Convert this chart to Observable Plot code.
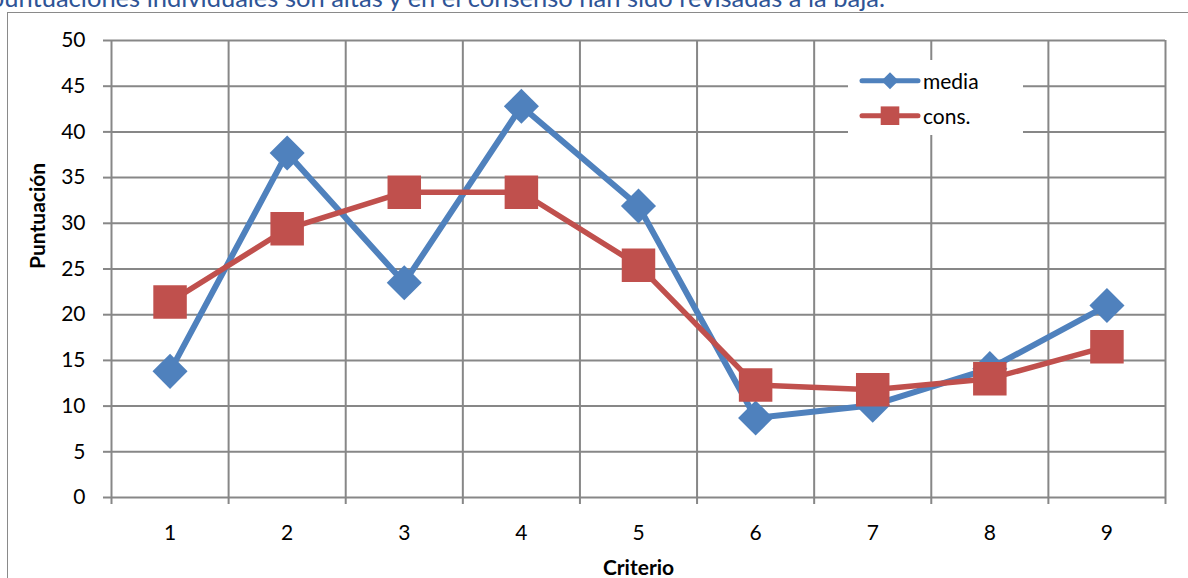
<!DOCTYPE html>
<html>
<head>
<meta charset="utf-8">
<script src="https://cdn.jsdelivr.net/npm/d3@7"></script>
<script src="https://cdn.jsdelivr.net/npm/@observablehq/plot@0.6"></script>
<style>
  body { margin: 0; background: #fff; }
  #chart { position: relative; width: 1188px; height: 578px; overflow: hidden; font-family: Lato, sans-serif; }
  #plot svg { display: block; background: transparent; }
  #frame { position: absolute; left: 7px; top: 12px; width: 1400px; height: 800px; border: 1.5px solid #8a8a8a; box-sizing: border-box; pointer-events: none; }
  #title { position: absolute; right: 303px; top: -15.5px; white-space: nowrap; font-size: 25.5px; line-height: 25.5px; color: #2E5496; }
  #legend { position: absolute; left: 848px; top: 60px; }
</style>
</head>
<body>
<div id="chart">
  <div id="plot"></div>
  <div id="legend"></div>
  <div id="frame"></div>
  <div id="title">puntuaciones individuales son altas y en el consenso han sido revisadas a la baja.</div>
</div>
<script>
// Criteria along the x axis and the two score series
const criterios = [1, 2, 3, 4, 5, 6, 7, 8, 9];
const media = [13.8, 37.7, 23.5, 42.8, 31.9, 8.7, 10.1, 14.1, 21.0];
const cons  = [21.4, 29.4, 33.4, 33.4, 25.4, 12.3, 11.8, 13.0, 16.5];

const series  = ["media", "cons."];
const colors  = ["#4F81BD", "#C0504D"];
const symbols = ["diamond2", "square"];
const yTicks  = [0, 5, 10, 15, 20, 25, 30, 35, 40, 45, 50];

const xLabel = "Criterio";
const yLabel = "Puntuación";

const values = { "media": media, "cons.": cons };
const rows = series.flatMap(s => criterios.map((c, i) => ({ criterio: c, serie: s, valor: values[s][i] })));

// category boundaries: vertical grid lines sit between criteria
const bounds = criterios.map(c => c - 0.5).concat(criterios[criterios.length - 1] + 0.5);

const gridColor = "#878787";
const font = "Lato, sans-serif";

const seriesMarks = series.flatMap((s, k) => {
  const data = rows.filter(d => d.serie === s);
  return [
    Plot.line(data, { x: "criterio", y: "valor", stroke: colors[k], strokeWidth: k === 0 ? 6 : 5.5, strokeLinejoin: "round", strokeLinecap: "round" }),
    Plot.dot(data, { x: "criterio", y: "valor", symbol: () => symbols[k], fill: colors[k], stroke: "none", r: k === 0 ? 15.8 : 18.9 })
  ];
});

const chart = Plot.plot({
  width: 1188,
  height: 578,
  marginLeft: 111,
  marginRight: 23,
  marginTop: 40,
  marginBottom: 81,
  style: { fontFamily: font, fontSize: "21px", color: "#000", background: "transparent" },
  x: { domain: [bounds[0], bounds[bounds.length - 1]] },
  y: { domain: [0, 50] },
  symbol: { type: "identity" },
  marks: [
    Plot.ruleY(yTicks, { stroke: gridColor, strokeWidth: 2 }),
    Plot.ruleX(bounds, { stroke: gridColor, strokeWidth: 2, insetBottom: -7 }),
    Plot.axisY(yTicks, { tickSize: 8, tickPadding: 18, stroke: gridColor, strokeWidth: 2, fill: "#000", fontSize: 21, label: null }),
    Plot.axisX(criterios, { tickSize: 0, tickPadding: 28, tickFormat: d3.format("d"), fill: "#000", fontSize: 21, label: null }),
    ...seriesMarks,
    Plot.text([yLabel], { frameAnchor: "left", rotate: -90, dx: -73, lineAnchor: "middle", fontWeight: "bold", fontSize: 21, fill: "#000" }),
    Plot.text([xLabel], { frameAnchor: "bottom", dy: 71, lineAnchor: "middle", fontWeight: "bold", fontSize: 21, fill: "#000" })
  ]
});
document.getElementById("plot").appendChild(chart);

// Legend box inside the plot area
const lg = d3.select("#legend").append("svg").attr("width", 175).attr("height", 75);
lg.append("rect").attr("width", 175).attr("height", 75).attr("fill", "#fff");
series.forEach((s, k) => {
  const cy = 20.7 + k * 35;
  const g = lg.append("g");
  g.append("line").attr("x1", 14).attr("x2", 70).attr("y1", cy).attr("y2", cy)
    .attr("stroke", colors[k]).attr("stroke-width", 5).attr("stroke-linecap", "round");
  if (symbols[k] === "diamond2") {
    g.append("path").attr("d", `M42,${cy - 8.5}L50.5,${cy}L42,${cy + 8.5}L33.5,${cy}Z`).attr("fill", colors[k]);
  } else {
    g.append("rect").attr("x", 42 - 9.3).attr("y", cy - 9.3).attr("width", 18.6).attr("height", 18.6).attr("fill", colors[k]);
  }
  g.append("text").attr("x", 75).attr("y", cy + 8.5).attr("font-family", font).attr("font-size", 21).attr("fill", "#000").text(s);
});
</script>
</body>
</html>
